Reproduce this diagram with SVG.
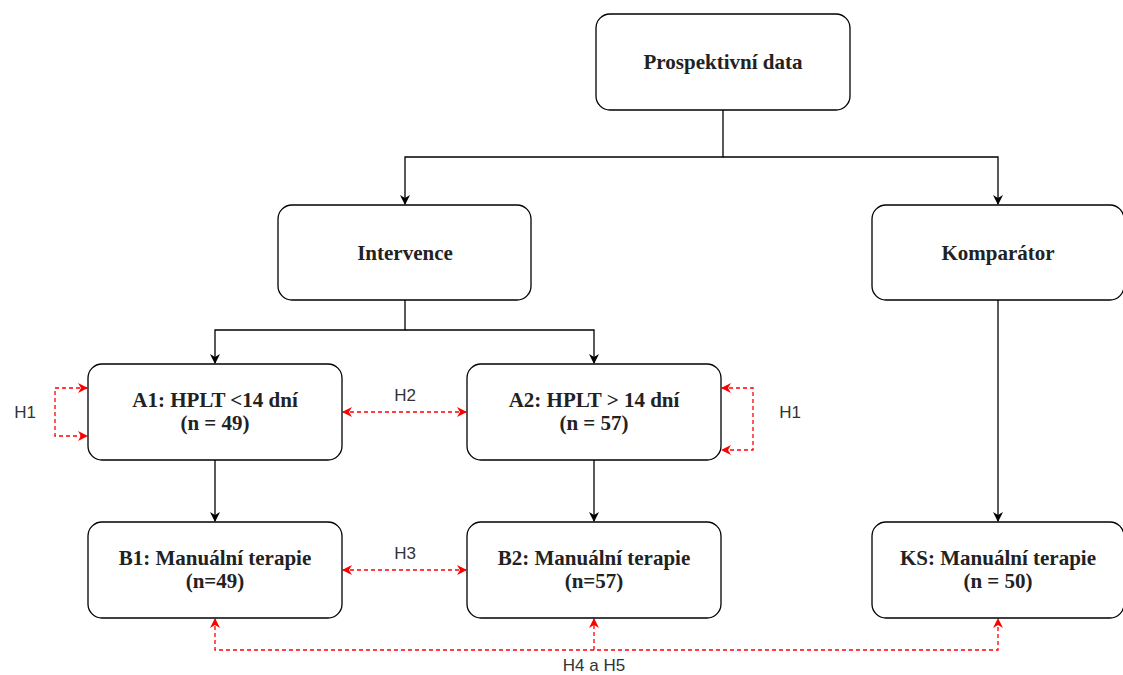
<svg xmlns="http://www.w3.org/2000/svg" width="1123" height="675" viewBox="0 0 1123 675">
<style>
.box{fill:#fff;stroke:#000;stroke-width:1.3}
.t{font-family:"Liberation Serif",serif;font-weight:bold;font-size:21px;fill:#222;text-anchor:middle}
.c{fill:none;stroke:#000;stroke-width:1.3}
.r{fill:none;stroke:#f00;stroke-width:1.3;stroke-dasharray:4 3}
.l{font-family:"Liberation Sans",Arial,sans-serif;font-size:17px;fill:#333;text-anchor:middle}
</style>
<defs>
<marker id="ab" viewBox="0 0 10 10" refX="9" refY="5" markerWidth="10" markerHeight="10" markerUnits="userSpaceOnUse" orient="auto"><path d="M0,0 L10,5 L0,10 L3,5 Z" fill="#000"/></marker>
<marker id="ar" viewBox="0 0 10 10" refX="9" refY="5" markerWidth="10" markerHeight="10" markerUnits="userSpaceOnUse" orient="auto-start-reverse"><path d="M0,0 L10,5 L0,10 L3,5 Z" fill="#f00"/></marker>
</defs>
<g id="connectors">
<path class="c" d="M723,110 V157 H405 V204" marker-end="url(#ab)"/>
<path class="c" d="M723,157 H998 V204" marker-end="url(#ab)"/>
<path class="c" d="M405,300 V330 H215 V363" marker-end="url(#ab)"/>
<path class="c" d="M405,330 H594 V363" marker-end="url(#ab)"/>
<path class="c" d="M215,460 V521" marker-end="url(#ab)"/>
<path class="c" d="M594,460 V521" marker-end="url(#ab)"/>
<path class="c" d="M998,300 V521" marker-end="url(#ab)"/>
<path class="r" d="M87,388 H55 V436 H87" marker-start="url(#ar)" marker-end="url(#ar)"/>
<path class="r" d="M343,412 H466" marker-start="url(#ar)" marker-end="url(#ar)"/>
<path class="r" d="M722,388 H753 V450 H722" marker-start="url(#ar)" marker-end="url(#ar)"/>
<path class="r" d="M343,570 H466" marker-start="url(#ar)" marker-end="url(#ar)"/>
<path class="r" d="M215,619 V650 H998 V619" marker-start="url(#ar)" marker-end="url(#ar)"/>
<path class="r" d="M594,650 V619" marker-end="url(#ar)"/>
<text class="l" x="25" y="418">H1</text>
<text class="l" x="405" y="401">H2</text>
<text class="l" x="790" y="418">H1</text>
<text class="l" x="405" y="559">H3</text>
<text class="l" x="594" y="671">H4 a H5</text>
</g>
<g id="prospektivni"><rect class="box" x="596" y="14" width="254" height="96" rx="14"/><text class="t" x="723" y="69">Prospektivní data</text></g>
<g id="intervence"><rect class="box" x="278" y="205" width="253" height="95" rx="14"/><text class="t" x="405" y="260">Intervence</text></g>
<g id="komparator"><rect class="box" x="872" y="205" width="252" height="95" rx="14"/><text class="t" x="998" y="260">Komparátor</text></g>
<g id="a1"><rect class="box" x="88" y="364" width="254" height="96" rx="14"/><text class="t" x="215" y="407">A1: HPLT &lt;14 dní</text><text class="t" x="215" y="430">(n = 49)</text></g>
<g id="a2"><rect class="box" x="467" y="364" width="254" height="96" rx="14"/><text class="t" x="594" y="407">A2: HPLT &gt; 14 dní</text><text class="t" x="594" y="430">(n = 57)</text></g>
<g id="b1"><rect class="box" x="88" y="522" width="254" height="96" rx="14"/><text class="t" x="215" y="565">B1: Manuální terapie</text><text class="t" x="215" y="588">(n=49)</text></g>
<g id="b2"><rect class="box" x="467" y="522" width="254" height="96" rx="14"/><text class="t" x="594" y="565">B2: Manuální terapie</text><text class="t" x="594" y="588">(n=57)</text></g>
<g id="ks"><rect class="box" x="872" y="522" width="252" height="96" rx="14"/><text class="t" x="998" y="565">KS: Manuální terapie</text><text class="t" x="998" y="588">(n = 50)</text></g>
</svg>
